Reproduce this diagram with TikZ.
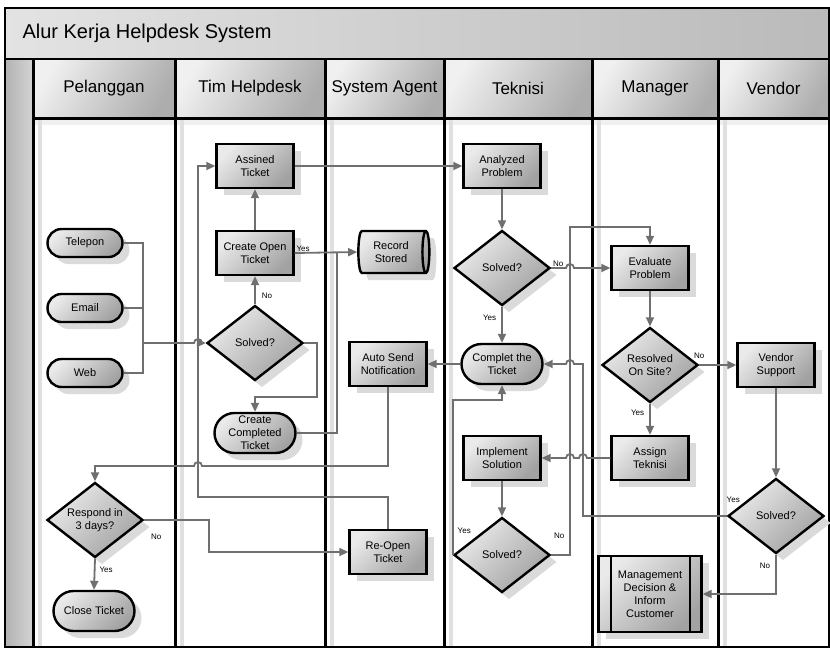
\documentclass[tikz,border=0pt]{standalone}
\usepackage{fontspec}
\setmainfont{Liberation Sans}
\usetikzlibrary{shapes.geometric,shapes.misc,shadows,arrows.meta}

\definecolor{linegray}{HTML}{6F6F6F}
\definecolor{shadegray}{HTML}{DADADA}
\definecolor{lightfill}{HTML}{EAEAEA}
\definecolor{darkfill}{HTML}{A2A2A2}

\tikzset{
  box/.style={draw=black, line width=2.4pt, top color=lightfill, bottom color=darkfill, shading angle=45,
    general shadow={fill=shadegray, shadow xshift=7pt, shadow yshift=-7pt},
    font=\fontsize{11}{13}\selectfont, align=center, inner sep=1pt},
  process/.style={box, rectangle, minimum width=77pt, minimum height=44pt},
  terminal/.style={box, rounded rectangle, minimum width=83pt, minimum height=40pt},
  source/.style={box, rounded rectangle, minimum width=77pt, minimum height=28pt},
  decision/.style={box, diamond, aspect=1.3, minimum width=96pt, minimum height=75pt, inner sep=0pt},
  storage/.style={box, cylinder, aspect=0.3, minimum width=42pt, minimum height=71pt},
  predefined/.style={process, minimum width=103pt, minimum height=76pt},
  flow/.style={draw=linegray, line width=1.8pt, -{Triangle[length=9pt,width=8pt]}},
  flowline/.style={draw=linegray, line width=1.8pt},
  answer/.style={font=\fontsize{8}{9}\selectfont, inner sep=1pt},
  lanehead/.style={rectangle, minimum height=59pt, top color=black!6, bottom color=black!32, shading angle=60,
    font=\fontsize{17}{20}\selectfont}
}

\begin{document}
\begin{tikzpicture}[x=1pt,y=1pt]
	\useasboundingbox (0,0) rectangle (830,-649);

	% pool
	\shade[left color=black!11, right color=black!27] (5,-8) rectangle (829,-59);
	\node[anchor=west, font=\fontsize{20}{24}\selectfont] (pooltitle) at (19,-33) {Alur Kerja Helpdesk System};
	\shade[left color=black!30, right color=black!17] (5,-59) rectangle (33,-647);

	% lanes
	\node[lanehead, minimum width=142pt] (lanepel) at (104,-88.5) {Pelanggan};
	\node[lanehead, minimum width=150pt] (lanetim) at (250,-88.5) {Tim Helpdesk};
	\node[lanehead, minimum width=119pt] (lanesys) at (384.5,-88.5) {System Agent};
	\node[lanehead, minimum width=148pt] (lanetek) at (518,-88.5) {Teknisi};
	\node[lanehead, minimum width=126pt] (laneman) at (655,-88.5) {Manager};
	\node[lanehead, minimum width=111pt] (laneven) at (773.5,-88.5) {Vendor};
	\fill[black!6] (33,-118) rectangle (829,-125);
	\foreach \lx in {33,175,325,444,592,718}
		\fill[black!12] (\lx+5,-118) rectangle (\lx+9,-647);
	\foreach \lx in {33,175,325,444,592,718}
		\draw[line width=3pt] (\lx,-59) -- (\lx,-647);
	\draw[line width=3pt] (33,-118) -- (829,-118);
	\draw[line width=2.4pt] (5,-59) -- (829,-59);
	\draw[line width=2.4pt] (5,-8) rectangle (829,-647);

	% Pelanggan
	\node[source] (ptel) at (85,-243) {Telepon};
	\node[source] (pemail) at (85,-308) {Email};
	\node[source] (pweb) at (85,-373) {Web};
	\node[decision] (prespond) at (95,-520) {Respond in\\3 days?};
	\node[terminal] (pclose) at (94,-611) {Close Ticket};

	% Tim Helpdesk
	\node[process] (hassign) at (255,-166) {Assined\\Ticket};
	\node[process] (hopen) at (255,-253) {Create Open\\Ticket};
	\node[decision] (hsolved) at (255,-343) {Solved?};
	\node[terminal] (hcompleted) at (255,-433) {Create\\Completed\\Ticket};

	% System Agent
	\node[storage] (srecord) at (391,-252) {Record\\Stored};
	\node[process] (snotify) at (388,-364) {Auto Send\\Notification};
	\node[process] (sreopen) at (388,-552) {Re-Open\\Ticket};

	% Teknisi
	\node[process] (tanalyze) at (502,-166) {Analyzed\\Problem};
	\node[decision] (tsolved) at (502,-268) {Solved?};
	\node[terminal] (tcomplete) at (502,-364) {Complet the\\Ticket};
	\node[process] (timplement) at (502,-458) {Implement\\Solution};
	\node[decision] (tsolvedb) at (502,-555) {Solved?};

	% Manager
	\node[process] (mevaluate) at (650,-268) {Evaluate\\Problem};
	\node[decision] (mresolved) at (650,-365) {Resolved\\On Site?};
	\node[process] (massign) at (650,-458) {Assign\\Teknisi};
	\node[predefined] (mdecision) at (650,-594) {Management\\Decision \&\\Inform\\Customer};
	\draw[line width=2.2pt] ([xshift=14pt]mdecision.north west) -- ([xshift=14pt]mdecision.south west);
	\draw[line width=2.2pt] ([xshift=-13pt]mdecision.north east) -- ([xshift=-13pt]mdecision.south east);

	% Vendor
	\node[process] (vsupport) at (776,-365) {Vendor\\Support};
	\node[decision] (vsolved) at (776,-516) {Solved?};

	% connectors
	\coordinate (merge) at (143,-343);
	\draw[flowline] (ptel.east) -| (merge);
	\draw[flowline] (pemail.east) -| (merge);
	\draw[flowline] (pweb.east) -| (merge);
	\draw[flow] (merge) -- (194,-343) arc[start angle=180,end angle=0,radius=4] -- (hsolved.west);
	\draw[flow] (hsolved.north) -- node[answer, right=5pt, pos=0.3] {No} (hopen.south);
	\draw[flow] (hopen.north) -- (hassign.south);
	\draw[flow] (hopen.east) node[answer, above right] {Yes} -- (srecord.west);
	\draw[flow] (hsolved.east) -- (317,-343) |- ([yshift=15pt]hcompleted.north) -- (hcompleted.north);
	\draw[flowline] (hcompleted.east) -| ([xshift=-20pt]srecord.west);
	\draw[flow] (sreopen.north) |- (198,-497) |- (hassign.west);
	\draw[flow] (hassign.east) -- (tanalyze.west);
	\draw[flow] (tanalyze.south) -- (tsolved.north);
	\draw[flow] (tsolved.south) -- node[answer, left=4pt, pos=0.3] {Yes} (tcomplete.north);
	\draw[flow] (tsolved.east) node[answer, above right] {No} -- (566,-268) arc[start angle=180,end angle=0,radius=4] -- (mevaluate.west);
	\draw[flow] (tcomplete.west) -- (snotify.east);
	\draw[flow] (snotify.south) |- (202,-466) arc[start angle=0,end angle=180,radius=4] -| (prespond.north);
	\draw[flow] (prespond.east) node[answer, anchor=north west, xshift=5pt, yshift=-12pt] {No} -- (209,-520) |- (sreopen.west);
	\draw[flow] (prespond.south) -- node[answer, right=3pt, pos=0.35] {Yes} (pclose.north);
	\draw[flow] (timplement.south) -- (tsolvedb.north);
	\draw[flow] (tsolvedb.east) node[answer, anchor=south west, xshift=1pt, yshift=15pt] {No} -| (570,-227) -| (mevaluate.north);
	\draw[flow] (tsolvedb.west) node[answer, anchor=south west, xshift=3pt, yshift=20pt] {Yes} |- ([yshift=-15pt]tcomplete.south) -- (tcomplete.south);
	\draw[flow] (mevaluate.south) -- (mresolved.north);
	\draw[flow] (mresolved.east) node[answer, above=5pt] {No} -- (vsupport.west);
	\draw[flow] (mresolved.south) -- node[answer, left=4pt, pos=0.3] {Yes} (massign.north);
	\draw[flow] (massign.west) -- (587,-458) arc[start angle=0,end angle=180,radius=4] -- (574,-458) arc[start angle=0,end angle=180,radius=4] -- (timplement.east);
	\draw[flow] (vsupport.south) -- (vsolved.north);
	\draw[flow] (vsolved.west) node[answer, anchor=south west, xshift=-2pt, yshift=12pt] {Yes} -| (583,-364) -- (574,-364) arc[start angle=0,end angle=180,radius=4] -- (tcomplete.east);
	\draw[flow] (vsolved.south) -- node[answer, left=4pt, pos=0.27] {No} (vsolved.south |- mdecision.east) -- (mdecision.east);
\end{tikzpicture}
\end{document}
